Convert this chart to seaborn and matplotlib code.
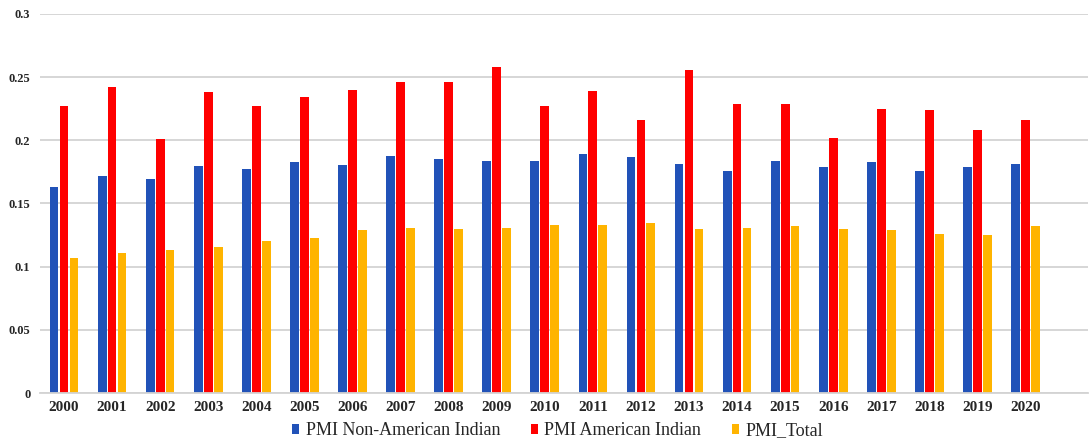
import matplotlib
matplotlib.use("Agg")
import matplotlib.pyplot as plt
import seaborn as sns
import pandas as pd

years = [str(y) for y in range(2000, 2021)]
pmi_non_ai = [0.163, 0.172, 0.169, 0.1795, 0.1777, 0.1825, 0.1806, 0.1877, 0.1853, 0.1835,
              0.1835, 0.1888, 0.1866, 0.1814, 0.1754, 0.1835, 0.1785, 0.1825, 0.1754, 0.1785, 0.1814]
pmi_ai = [0.227, 0.2425, 0.2014, 0.2385, 0.227, 0.234, 0.2396, 0.2464, 0.2464, 0.2577,
          0.227, 0.2393, 0.2164, 0.2556, 0.229, 0.229, 0.2022, 0.2251, 0.224, 0.2082, 0.2164]
pmi_total = [0.107, 0.111, 0.113, 0.1156, 0.120, 0.123, 0.129, 0.131, 0.1298, 0.131,
             0.1332, 0.1332, 0.1343, 0.1298, 0.131, 0.1321, 0.130, 0.129, 0.126, 0.125, 0.1321]
series_names = ["PMI Non-American Indian", "PMI American Indian", "PMI_Total"]
colors = ["#2152B8", "#FF0000", "#FFB400"]
yticks = [0, 0.05, 0.1, 0.15, 0.2, 0.25, 0.3]
ytick_labels = ["0", "0.05", "0.1", "0.15", "0.2", "0.25", "0.3"]

rows = []
for name, vals in zip(series_names, [pmi_non_ai, pmi_ai, pmi_total]):
    for y, v in zip(years, vals):
        rows.append({"Year": y, "Series": name, "Value": v})
df = pd.DataFrame(rows)

sns.set_theme(style="white")
plt.rcParams["font.family"] = ["Liberation Serif", "DejaVu Serif"]

fig = plt.figure(figsize=(10.9, 4.4), dpi=100)
ax = fig.add_axes([40 / 1090, 1 - 393 / 440, 1048 / 1090, 379 / 440])

sns.barplot(data=df, x="Year", y="Value", hue="Series", hue_order=series_names,
            palette=colors, width=0.62, gap=0.12, ax=ax, saturation=1, legend=True,
            linewidth=0)

ax.set_ylim(0, 0.3)
ax.set_xlim(-0.5, 21.3)
ax.set_yticks(yticks)
ax.set_yticklabels(ytick_labels, fontsize=9, fontweight="bold")
for lbl in ax.get_xticklabels():
    lbl.set_fontsize(11)
    lbl.set_fontweight("bold")
ax.set_xlabel("")
ax.set_ylabel("")
ax.yaxis.grid(True, color="#D3D3D3", linewidth=1.3)
ax.set_axisbelow(True)
for s in ["top", "right", "left"]:
    ax.spines[s].set_visible(False)
ax.spines["bottom"].set_color("#D3D3D3")
ax.spines["bottom"].set_linewidth(1.3)
ax.tick_params(axis="both", length=0)
ax.tick_params(axis="x", pad=6)
ax.tick_params(axis="y", pad=7)

handles, labels = ax.get_legend_handles_labels()
ax.legend(handles, labels, loc="center", bbox_to_anchor=(0.494, -0.1), ncol=3,
          frameon=False, fontsize=13, handlelength=0.4, handleheight=0.4,
          handletextpad=0.35, columnspacing=1.7)

fig.savefig("out.png", dpi=100)
